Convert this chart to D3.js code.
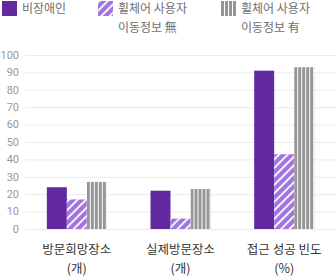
<!DOCTYPE html>
<html>
<head>
<meta charset="utf-8">
<script src="https://cdn.jsdelivr.net/npm/d3@7"></script>
<style>
  body { margin: 0; background: #fff; }
  svg { display: block; font-family: "Noto Sans CJK KR", "Noto Sans", sans-serif; }
</style>
</head>
<body>
<script>
// data
let categories = ['방문희망장소|(개)', '실제방문장소|(개)', '접근 성공 빈도|(%)'];
let seriesNames = ['비장애인', '휠체어 사용자|이동정보 無', '휠체어 사용자|이동정보 有'];
let nonDisabled = [24, 22, 91];
let wheelNoInfo = [17, 6, 43];
let wheelInfo = [27, 23, 93];
let yTicks = [0, 10, 20, 30, 40, 50, 60, 70, 80, 90, 100];

let series = [nonDisabled, wheelNoInfo, wheelInfo];
let fills = ['#6229a0', 'url(#hatch)', 'url(#vstripe)'];

let width = 336, height = 278;

let svg = d3.select('body').append('svg')
    .attr('width', width)
    .attr('height', height);

// patterns
let defs = svg.append('defs');
let hatch = defs.append('pattern')
    .attr('id', 'hatch')
    .attr('patternUnits', 'userSpaceOnUse')
    .attr('width', 6).attr('height', 6)
    .attr('patternTransform', 'rotate(45)');
hatch.append('rect').attr('width', 6).attr('height', 6).attr('fill', '#a274e0');
hatch.append('rect').attr('width', 1.8).attr('height', 6).attr('fill', '#fff');

let vstripe = defs.append('pattern')
    .attr('id', 'vstripe')
    .attr('patternUnits', 'userSpaceOnUse')
    .attr('width', 4).attr('height', 4);
vstripe.append('rect').attr('width', 4).attr('height', 4).attr('fill', '#fff');
vstripe.append('rect').attr('width', 3).attr('height', 4).attr('fill', '#959595');

// scales
let x0 = d3.scaleBand().domain(categories).range([25, 336]);
let x1 = d3.scaleBand().domain([0, 1, 2]).range([0, 60]);
let y = d3.scaleLinear().domain([0, 100]).range([229, 55]);

// grid
svg.append('g').selectAll('line')
    .data(yTicks).enter()
    .append('line')
        .attr('x1', 25).attr('x2', 336)
        .attr('y1', function (d) { return y(d) + 0.5 })
        .attr('y2', function (d) { return y(d) + 0.5 })
        .attr('stroke', '#ebebeb')
        .attr('stroke-width', 1);

// y labels
svg.append('g').selectAll('text')
    .data(yTicks).enter()
    .append('text')
        .attr('x', 19)
        .attr('y', function (d) { return y(d) })
        .attr('dy', '0.35em')
        .attr('text-anchor', 'end')
        .attr('font-size', 11)
        .attr('font-family', 'Roboto, sans-serif')
        .attr('fill', '#999')
        .text(function (d) { return d });

// bars
let groups = svg.append('g').selectAll('g')
    .data(categories).enter()
    .append('g')
        .attr('transform', function (d) { return 'translate(' + (x0(d) + x0.bandwidth() / 2 - 30) + ',0)' });

groups.selectAll('rect')
    .data(function (d, i) { return series.map(function (s, k) { return { k: k, v: s[i] } }) }).enter()
    .append('rect')
        .attr('x', function (d) { return x1(d.k) })
        .attr('width', x1.bandwidth())
        .attr('y', function (d) { return y(d.v) })
        .attr('height', function (d) { return y(0) - y(d.v) })
        .attr('fill', function (d) { return fills[d.k] });

// category labels
let catLabels = svg.append('g').selectAll('text')
    .data(categories).enter()
    .append('text')
        .attr('x', function (d) { return x0(d) + x0.bandwidth() / 2 })
        .attr('y', 254)
        .attr('text-anchor', 'middle')
        .attr('font-size', 12.5)
        .attr('fill', '#333');
catLabels.selectAll('tspan')
    .data(function (d) { return d.split('|') }).enter()
    .append('tspan')
        .attr('x', function () { return d3.select(this.parentNode).attr('x') })
        .attr('dy', function (d, i) { return i ? 19 : 0 })
        .text(function (d) { return d });

// legend
let legendX = [2, 98, 221];
let legend = svg.append('g').selectAll('g')
    .data(seriesNames).enter()
    .append('g')
        .attr('transform', function (d, i) { return 'translate(' + legendX[i] + ',1)' });
legend.append('rect')
    .attr('width', 15).attr('height', 15)
    .attr('fill', function (d, i) { return fills[i] });
legend.append('text')
    .attr('x', 20)
    .attr('y', 12)
    .attr('font-size', 12)
    .attr('fill', '#6f6f6f')
    .selectAll('tspan')
    .data(function (d) { return d.split('|') }).enter()
    .append('tspan')
        .attr('x', 20)
        .attr('dy', function (d, i) { return i ? 19 : 0 })
        .text(function (d) { return d });
</script>
</body>
</html>
